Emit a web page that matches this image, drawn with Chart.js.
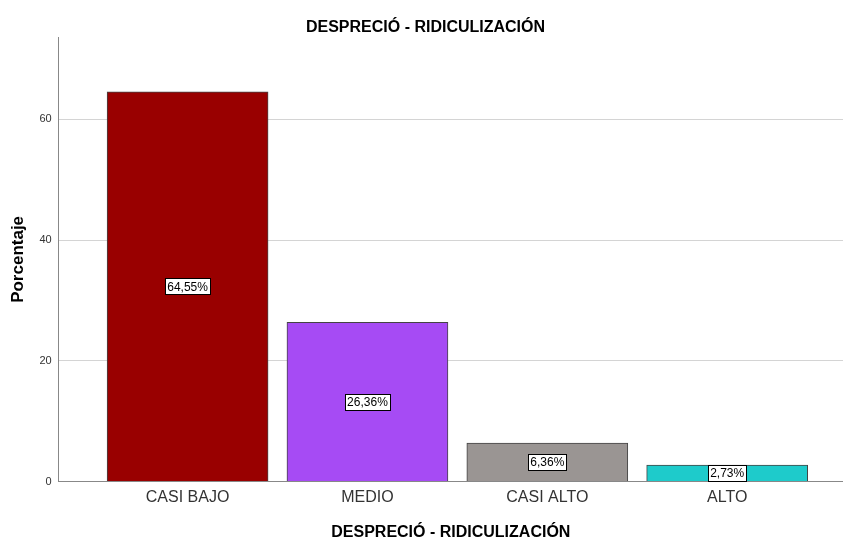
<!DOCTYPE html>
<html>
<head>
<meta charset="utf-8">
<script src="https://cdn.jsdelivr.net/npm/chart.js@4"></script>
<style>
  html, body { margin: 0; padding: 0; background: #fff; }
  #wrap { width: 843px; height: 542px; }
</style>
</head>
<body>
<div id="wrap"><canvas id="chart"></canvas></div>
<script>
const categories = ['CASI BAJO', 'MEDIO', 'CASI ALTO', 'ALTO'];
const porcentajes = [64.55, 26.36, 6.36, 2.73];
const yTicks = [0, 20, 40, 60];
const barColors = ['#990000', '#a64bf4', '#9a9593', '#1ecbcb'];

Chart.defaults.font.family = "'Liberation Sans', Arial, sans-serif";
Chart.defaults.color = '#222';

// etiqueta blanca con borde en el centro de cada barra
const boxLabels = {
    id: 'boxLabels',
    afterDatasetsDraw(chart) {
        const ctx = chart.ctx;
        const meta = chart.getDatasetMeta(0);
        ctx.save();
        ctx.font = "12px 'Liberation Sans', Arial";
        ctx.textAlign = 'center';
        ctx.textBaseline = 'middle';
        meta.data.forEach((bar, i) => {
            const txt = porcentajes[i].toFixed(2).replace('.', ',') + '%';
            const cy = (bar.y + bar.base) / 2;
            const w = Math.round(ctx.measureText(txt).width + 4);
            const h = 16;
            const x0 = Math.round(bar.x - w / 2) + 0.5;
            const y0 = Math.round(cy - h / 2) + 0.5;
            ctx.fillStyle = '#fff';
            ctx.fillRect(x0, y0, w, h);
            ctx.strokeStyle = '#000';
            ctx.lineWidth = 1;
            ctx.strokeRect(x0, y0, w, h);
            ctx.fillStyle = '#000';
            ctx.fillText(txt, bar.x, cy + 1);
        });
        ctx.restore();
    }
};

new Chart(document.getElementById('chart'), {
    type: 'bar',
    data: {
        datasets: [
            {
                label: 'Porcentaje',
                data: porcentajes.map((v, i) => ({ x: i, y: v })),
                backgroundColor: barColors,
                borderColor: '#444',
                borderWidth: 1,
                borderSkipped: 'bottom',
                barThickness: 161
            }
        ]
    },
    options: {
        responsive: true,
        maintainAspectRatio: false,
        animation: false,
        layout: { padding: { left: 8, right: 0, top: 0, bottom: 0 } },
        plugins: {
            legend: { display: false },
            tooltip: { enabled: false },
            title: {
                display: true,
                text: 'DESPRECIÓ - RIDICULIZACIÓN',
                color: '#000',
                font: { size: 16, weight: 'bold' },
                padding: { top: 18, bottom: 0 }
            }
        },
        scales: {
            x: {
                type: 'linear',
                offset: false,
                min: -0.717,
                max: 3.644,
                afterBuildTicks: (axis) => { axis.ticks = categories.map((c, i) => ({ value: i })); },
                grid: { display: false, drawTicks: false },
                border: { color: '#888' },
                ticks: {
                    padding: 6,
                    color: '#333',
                    font: { size: 16 },
                    callback: (v) => categories[v] ?? ''
                },
                title: {
                    display: true,
                    text: 'DESPRECIÓ - RIDICULIZACIÓN',
                    color: '#000',
                    font: { size: 16, weight: 'bold' },
                    padding: { top: 10, bottom: 0 }
                }
            },
            y: {
                min: 0,
                max: 73.6,
                afterBuildTicks: (axis) => { axis.ticks = yTicks.map(v => ({ value: v })); },
                grid: { color: '#d4d4d4', drawTicks: false },
                border: { color: '#888' },
                ticks: { padding: 7, color: '#333', font: { size: 11 } },
                title: {
                    display: true,
                    text: 'Porcentaje',
                    color: '#000',
                    font: { size: 17, weight: 'bold' },
                    padding: { top: 0, bottom: 4 }
                }
            }
        }
    },
    plugins: [boxLabels]
});
</script>
</body>
</html>
